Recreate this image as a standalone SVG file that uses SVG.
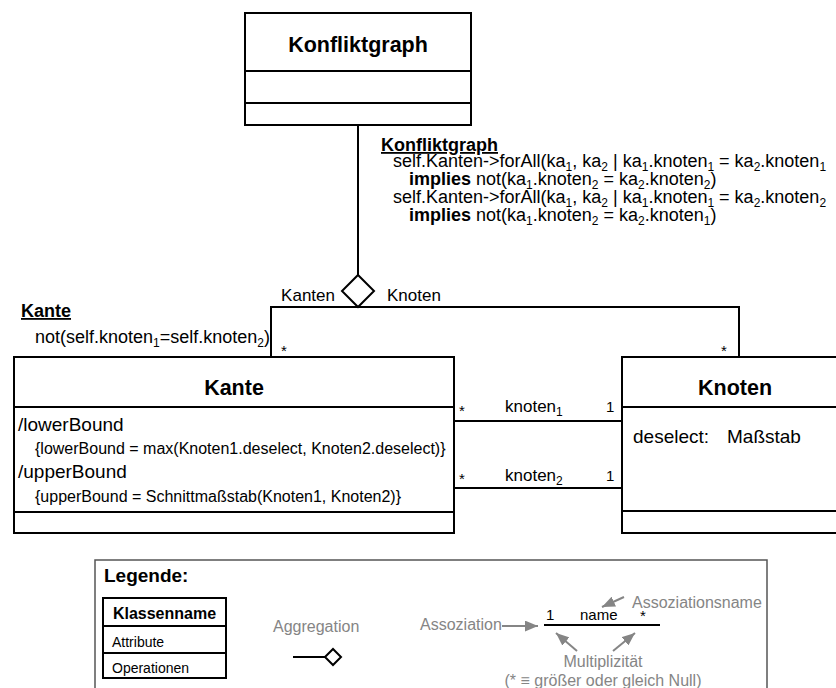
<svg xmlns="http://www.w3.org/2000/svg" width="836" height="688" viewBox="0 0 836 688">
<defs>
<style>
text{font-family:"Liberation Sans",Arial,sans-serif;fill:#000}
.box{fill:#fff;stroke:#000;stroke-width:2}
.ln{fill:none;stroke:#000;stroke-width:2}
.title{font-size:21.5px;font-weight:bold;text-anchor:middle}
.ct{font-size:18px}
.ctb{font-size:18px;font-weight:bold;text-decoration:underline}
.attr{font-size:19px}
.expr{font-size:16px}
.lab{font-size:17px}
.mult{font-size:15px}
.sub{font-size:12px}
.grey{fill:#858585;font-size:16px}
.garr{fill:none;stroke:#858585;stroke-width:2}
</style>
<marker id="ga" viewBox="0 0 12 10" refX="12" refY="5" markerWidth="13" markerHeight="11" markerUnits="userSpaceOnUse" orient="auto">
<path d="M0,0 L12,5 L0,10 Z" fill="#858585"/>
</marker>
</defs>

<g id="connectors">
<line class="ln" x1="358" y1="125" x2="358" y2="275"/>
<polyline class="ln" points="271,357 271,307 739,307 739,357"/>
<polygon class="ln" points="358,275 374,291 358,307 342,291" style="fill:#fff"/>
<text class="lab" x="335" y="301" text-anchor="end">Kanten</text>
<text class="lab" x="387" y="301">Knoten</text>
<text class="mult" x="281" y="356">*</text>
<text class="mult" x="721" y="356">*</text>
<line class="ln" x1="454" y1="421" x2="622" y2="421"/>
<line class="ln" x1="454" y1="488" x2="622" y2="488"/>
<text class="mult" x="459" y="416">*</text>
<text class="lab" x="505" y="412">knoten<tspan class="sub" dy="4">1</tspan></text>
<text class="mult" x="606" y="412">1</text>
<text class="mult" x="459" y="484">*</text>
<text class="lab" x="505" y="481">knoten<tspan class="sub" dy="4">2</tspan></text>
<text class="mult" x="606" y="481">1</text>
</g>

<g id="konfliktgraph">
<rect class="box" x="245" y="13" width="226" height="112"/>
<line class="ln" x1="245" y1="71" x2="471" y2="71"/>
<line class="ln" x1="245" y1="103" x2="471" y2="103"/>
<text class="title" x="358" y="52">Konfliktgraph</text>
</g>

<g id="konfliktgraph-constraint">
<text class="ctb" x="381" y="151">Konfliktgraph</text>
<text class="ct" x="393" y="167">self.Kanten-&gt;forAll(ka<tspan class="sub" dy="4">1</tspan><tspan dy="-4">, ka</tspan><tspan class="sub" dy="4">2</tspan><tspan dy="-4"> | ka</tspan><tspan class="sub" dy="4">1</tspan><tspan dy="-4">.knoten</tspan><tspan class="sub" dy="4">1</tspan><tspan dy="-4"> = ka</tspan><tspan class="sub" dy="4">2</tspan><tspan dy="-4">.knoten</tspan><tspan class="sub" dy="4">1</tspan></text>
<text class="ct" x="409" y="185"><tspan font-weight="bold">implies</tspan> not(ka<tspan class="sub" dy="4">1</tspan><tspan dy="-4">.knoten</tspan><tspan class="sub" dy="4">2</tspan><tspan dy="-4"> = ka</tspan><tspan class="sub" dy="4">2</tspan><tspan dy="-4">.knoten</tspan><tspan class="sub" dy="4">2</tspan><tspan dy="-4">)</tspan></text>
<text class="ct" x="393" y="203">self.Kanten-&gt;forAll(ka<tspan class="sub" dy="4">1</tspan><tspan dy="-4">, ka</tspan><tspan class="sub" dy="4">2</tspan><tspan dy="-4"> | ka</tspan><tspan class="sub" dy="4">1</tspan><tspan dy="-4">.knoten</tspan><tspan class="sub" dy="4">1</tspan><tspan dy="-4"> = ka</tspan><tspan class="sub" dy="4">2</tspan><tspan dy="-4">.knoten</tspan><tspan class="sub" dy="4">2</tspan></text>
<text class="ct" x="409" y="221"><tspan font-weight="bold">implies</tspan> not(ka<tspan class="sub" dy="4">1</tspan><tspan dy="-4">.knoten</tspan><tspan class="sub" dy="4">2</tspan><tspan dy="-4"> = ka</tspan><tspan class="sub" dy="4">2</tspan><tspan dy="-4">.knoten</tspan><tspan class="sub" dy="4">1</tspan><tspan dy="-4">)</tspan></text>
</g>

<g id="kante-constraint">
<text class="ctb" x="21" y="317">Kante</text>
<text class="ct" x="35" y="343">not(self.knoten<tspan class="sub" dy="4">1</tspan><tspan dy="-4">=self.knoten</tspan><tspan class="sub" dy="4">2</tspan><tspan dy="-4">)</tspan></text>
</g>

<g id="kante">
<rect class="box" x="14" y="357" width="440" height="176"/>
<line class="ln" x1="14" y1="407" x2="454" y2="407"/>
<line class="ln" x1="14" y1="512" x2="454" y2="512"/>
<text class="title" x="234" y="395">Kante</text>
<text class="attr" x="18" y="431">/lowerBound</text>
<text class="expr" x="35" y="454">{lowerBound = max(Knoten1.deselect, Knoten2.deselect)}</text>
<text class="attr" x="18" y="478">/upperBound</text>
<text class="expr" x="35" y="502">{upperBound = Schnittmaßstab(Knoten1, Knoten2)}</text>
</g>

<g id="knoten">
<rect class="box" x="622" y="357" width="230" height="176"/>
<line class="ln" x1="622" y1="407" x2="852" y2="407"/>
<line class="ln" x1="622" y1="511" x2="852" y2="511"/>
<text class="title" x="735" y="395">Knoten</text>
<text class="attr" x="633" y="443">deselect:</text>
<text class="attr" x="727" y="443">Maßstab</text>
</g>

<g id="legende">
<rect x="95" y="560" width="672" height="140" fill="#fff" stroke="#555" stroke-width="1.5"/>
<text x="104" y="582" font-size="19" font-weight="bold">Legende:</text>
<rect class="box" x="103" y="598" width="123" height="80"/>
<line class="ln" x1="103" y1="626" x2="226" y2="626" stroke-width="1.5"/>
<line class="ln" x1="103" y1="653" x2="226" y2="653" stroke-width="1.5"/>
<text x="164.5" y="619" font-size="16" font-weight="bold" text-anchor="middle">Klassenname</text>
<text x="112" y="647" font-size="14">Attribute</text>
<text x="112" y="673" font-size="14">Operationen</text>
<text class="grey" x="273" y="632">Aggregation</text>
<line class="ln" x1="293" y1="657" x2="325" y2="657"/>
<polygon class="ln" points="325,657 333,649 341,657 333,665" style="fill:#fff"/>
<text class="grey" x="420" y="630">Assoziation</text>
<line class="garr" x1="502" y1="626" x2="538" y2="626" marker-end="url(#ga)"/>
<line class="ln" x1="544" y1="625" x2="660" y2="625"/>
<text x="546" y="620" font-size="15">1</text>
<text x="580" y="620" font-size="15">name</text>
<text x="640" y="621" font-size="15">*</text>
<text class="grey" x="632" y="608" font-size="15.6">Assoziationsname</text>
<line class="garr" x1="624" y1="597" x2="602" y2="607" marker-end="url(#ga)"/>
<line class="garr" x1="577" y1="651" x2="556" y2="633" marker-end="url(#ga)"/>
<line class="garr" x1="613" y1="651" x2="635" y2="633" marker-end="url(#ga)"/>
<text class="grey" x="603" y="667" text-anchor="middle">Multiplizität</text>
<text class="grey" x="603" y="686" text-anchor="middle">(* ≡ größer oder gleich Null)</text>
</g>
</svg>
